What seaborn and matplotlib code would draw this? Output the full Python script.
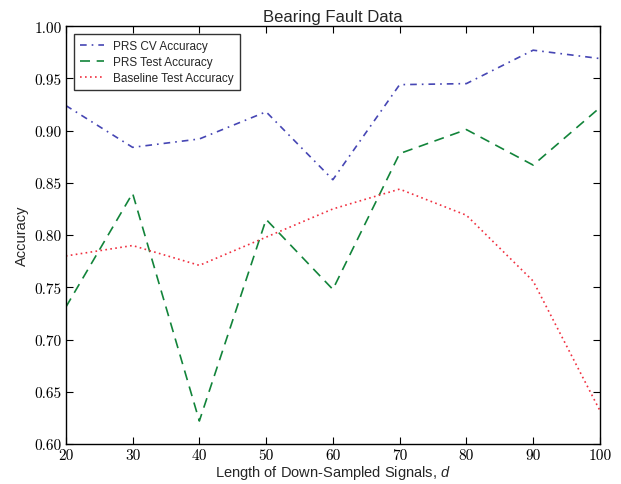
import matplotlib
matplotlib.use("Agg")
import matplotlib.pyplot as plt
import seaborn as sns
import pandas as pd
from matplotlib.ticker import FormatStrFormatter, MultipleLocator
from matplotlib.lines import Line2D

d_values = [20, 30, 40, 50, 60, 70, 80, 90, 100]
prs_cv = [0.924, 0.884, 0.892, 0.918, 0.853, 0.944, 0.945, 0.977, 0.969]
prs_test = [0.731, 0.840, 0.622, 0.815, 0.748, 0.878, 0.901, 0.867, 0.922]
baseline_test = [0.780, 0.790, 0.771, 0.798, 0.825, 0.844, 0.819, 0.756, 0.632]
series_names = ["PRS CV Accuracy", "PRS Test Accuracy", "Baseline Test Accuracy"]

sns.set_style("ticks")
plt.rcParams["font.family"] = ["Liberation Sans", "DejaVu Sans"]
plt.rcParams["mathtext.fontset"] = "custom"
plt.rcParams["mathtext.it"] = "Liberation Sans:italic"
plt.rcParams["mathtext.rm"] = "Liberation Sans"

df = pd.DataFrame({
    "d": d_values * 3,
    "acc": prs_cv + prs_test + baseline_test,
    "series": [series_names[0]] * 9 + [series_names[1]] * 9 + [series_names[2]] * 9,
})

fig = plt.figure(figsize=(6.21, 4.85), dpi=100)
ax = fig.add_axes([0.106, 0.0825, 0.86, 0.8615])

palette = {series_names[0]: "#4646b4", series_names[1]: "#12843a", series_names[2]: "#f03040"}
sns.lineplot(data=df, x="d", y="acc", hue="series", palette=palette, ax=ax,
             linewidth=1.2, legend=False)
styles = [(0, (4, 3, 1, 3)), (0, (6, 4)), (0, (1, 2))]
for line, ls in zip(ax.lines, styles):
    line.set_linestyle(ls)

handles = [Line2D([], [], color=palette[n], linestyle=s, linewidth=1.2) for n, s in zip(series_names, styles)]
leg = ax.legend(handles, series_names, loc="upper left", fontsize=8.5, frameon=True,
                fancybox=False, handlelength=2.0, borderpad=0.5, labelspacing=0.35,
                bbox_to_anchor=(0.005, 0.995))
leg.get_frame().set_edgecolor("black")
leg.get_frame().set_linewidth(1.0)

ax.set_xlim(20, 100)
ax.set_ylim(0.60, 1.00)
ax.xaxis.set_major_locator(MultipleLocator(10))
ax.yaxis.set_major_locator(MultipleLocator(0.05))
ax.xaxis.set_major_formatter(FormatStrFormatter("%d"))
ax.yaxis.set_major_formatter(FormatStrFormatter("%.2f"))
ax.tick_params(direction="in", top=True, right=True, length=5, width=0.8,
               labelsize=11, colors="black")
ax.tick_params(axis="x", pad=3)
ax.tick_params(axis="y", pad=3)
for lab in ax.get_xticklabels() + ax.get_yticklabels():
    lab.set_fontfamily("cmr10")
for s in ax.spines.values():
    s.set_linewidth(1.0)
    s.set_color("black")

ax.set_title("Bearing Fault Data", fontsize=12, pad=4)
ax.set_xlabel(r"Length of Down-Sampled Signals, $d$", fontsize=10.5, labelpad=1)
ax.set_ylabel("Accuracy", fontsize=10.5, labelpad=4)

fig.savefig("out.png", dpi=100)
